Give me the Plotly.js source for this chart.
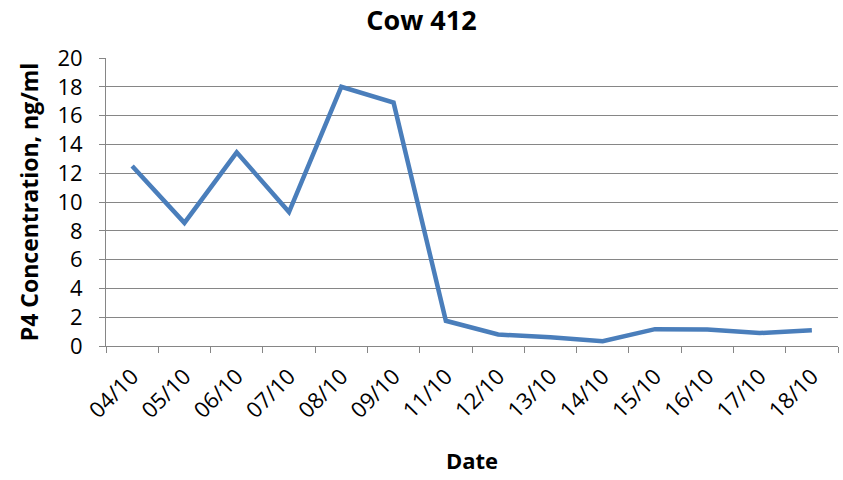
<!DOCTYPE html>
<html><head><meta charset="utf-8">
<script src="https://cdn.plot.ly/plotly-3.0.1.min.js"></script>
<style>html,body{margin:0;padding:0;background:#fff}#chart{width:843px;height:480px}</style>
</head><body><div id="chart"></div>
<script>
const dates = ["04/10","05/10","06/10","07/10","08/10","09/10","11/10","12/10","13/10","14/10","15/10","16/10","17/10","18/10"];
const p4 = [12.5, 8.55, 13.45, 9.3, 18.0, 16.9, 1.75, 0.8, 0.6, 0.33, 1.17, 1.15, 0.9, 1.1];
const yTicks = [0,2,4,6,8,10,12,14,16,18,20];

const font = "'Open Sans', sans-serif";
Plotly.newPlot("chart", [{
  x: dates, y: p4, type: "scatter", mode: "lines",
  line: {color: "#4a7ebb", width: 4.5, shape: "linear"},
  hoverinfo: "skip"
}], {
  width: 843, height: 480,
  margin: {l: 106, r: 5, t: 58, b: 134},
  paper_bgcolor: "#fff", plot_bgcolor: "#fff",
  showlegend: false,
  font: {family: font, color: "#000", size: 20},
  title: {text: "<b>Cow 412</b>", font: {size: 27, family: font}, x: 0.5, xanchor: "center", y: 0.958, yanchor: "middle"},
  xaxis: {
    type: "category", tickangle: -45, ticks: "outside", ticklen: 6, tickcolor: "#868686",
    tickson: "boundaries", ticklabelstandoff: 8,
    showline: true, linecolor: "#868686", linewidth: 1, showgrid: false,
    tickfont: {size: 22}, range: [-0.5, 13.5],
    title: {text: "<b>Date</b>", font: {size: 22}, standoff: 30}
  },
  yaxis: {
    range: [0, 20], tickvals: yTicks, ticks: "outside", ticklen: 6, tickcolor: "#868686",
    ticklabelstandoff: 12,
    showline: true, linecolor: "#868686", linewidth: 1,
    showgrid: true, gridcolor: "#868686", gridwidth: 1, zeroline: false,
    tickfont: {size: 22},
    title: {text: "<b>P4 Concentration, ng/ml</b>", font: {size: 23}, standoff: 12}
  }
}, {displayModeBar: false, staticPlot: true});
</script></body></html>
